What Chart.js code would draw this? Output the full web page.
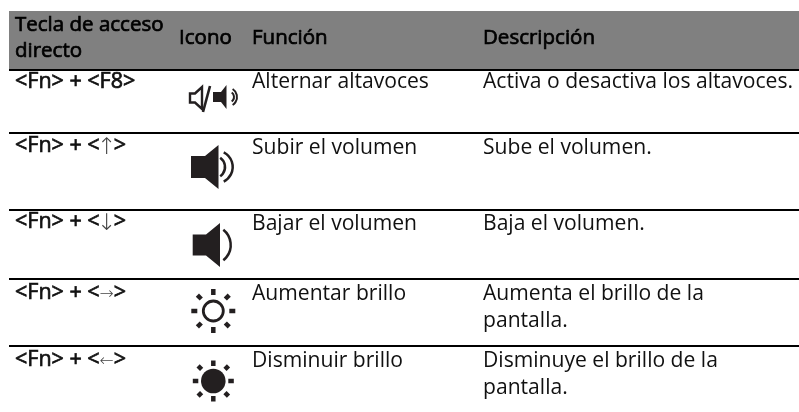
<!DOCTYPE html>
<html lang="es">
<head>
<meta charset="utf-8">
<title>Teclas de acceso directo</title>
<script src="https://cdn.jsdelivr.net/npm/chart.js@4"></script>
<style>
  html, body { margin: 0; padding: 0; background: #fff; overflow: hidden; }
  canvas { display: block; }
</style>
</head>
<body>
<canvas id="table" width="799" height="412"></canvas>
<script>
// table content
const headers = ["Tecla de acceso\ndirecto", "Icono", "Función", "Descripción"];
const hotkeys = ["<Fn> + <F8>", "<Fn> + <↑>", "<Fn> + <↓>", "<Fn> + <→>", "<Fn> + <←>"];
const icons = ["speakerToggle", "speakerLoud", "speakerSoft", "sunOutline", "sunSolid"];
const functions = ["Alternar altavoces", "Subir el volumen", "Bajar el volumen", "Aumentar brillo", "Disminuir brillo"];
const descriptions = [
    "Activa o desactiva los altavoces.",
    "Sube el volumen.",
    "Baja el volumen.",
    "Aumenta el brillo de la\npantalla.",
    "Disminuye el brillo de la\npantalla."
];

// layout, in scale units (the scales run 1:1 with the page)
const columnLeft = [15, 179, 252, 483];
const headerTop = 11;
const headerBottom = 69;
const headerCentre = 44;
const ruleValues = [70, 133, 210, 279, 346];
const hotkeyBaseline = [88, 152, 228, 299, 366];
const rowBaseline = [88, 154, 230, 300, 367];
const lineHeight = 27;
const iconCentre = [98, 167, 245, 311, 381];

const FONT = '"Open Sans", "Noto Sans", sans-serif';
const ARROW_FONT = '"DejaVu Sans"';
const INK = "#111111";
const ICON_INK = "#231f20";

function fauxBold(ctx, text, x, y) {
    ctx.lineWidth = 0.7;
    ctx.strokeStyle = ctx.fillStyle;
    ctx.strokeText(text, x, y);
    ctx.fillText(text, x, y);
}

// arrows come from a thin symbol font, the rest of the key label is heavy
function drawHotkey(ctx, label, x, y) {
    let cursor = x;
    label.split(/([↑↓→←])/).forEach((part) => {
        if (!part) return;
        if (/[↑↓→←]/.test(part)) {
            const upright = /[↑↓]/.test(part);
            ctx.font = "200 17px " + ARROW_FONT;
            const advance = ctx.measureText(part).width;
            ctx.save();
            if (upright) ctx.font = "200 23px " + ARROW_FONT;
            const offset = (advance - ctx.measureText(part).width) / 2;
            ctx.fillStyle = "#444444";
            ctx.fillText(part, cursor + offset, y + (upright ? 1.5 : 0));
            ctx.restore();
            cursor += advance;
        } else {
            ctx.font = "21.5px " + FONT;
            fauxBold(ctx, part, cursor, y);
            cursor += ctx.measureText(part).width;
        }
    });
}

function speaker(ctx, left, neck, right, cy, boxHalf, coneHalf) {
    ctx.beginPath();
    ctx.moveTo(left, cy - boxHalf);
    ctx.lineTo(neck, cy - boxHalf);
    ctx.lineTo(right, cy - coneHalf);
    ctx.lineTo(right, cy + coneHalf);
    ctx.lineTo(neck, cy + boxHalf);
    ctx.lineTo(left, cy + boxHalf);
    ctx.closePath();
}

function wave(ctx, cx, cy, radius, halfAngle, width) {
    ctx.lineWidth = width;
    ctx.beginPath();
    ctx.arc(cx, cy, radius, -halfAngle, halfAngle);
    ctx.stroke();
}

function rays(ctx, cx, cy, inner, outer, diagInner, diagOuter) {
    ctx.lineWidth = 4.5;
    for (let i = 0; i < 8; i++) {
        const angle = i * Math.PI / 4;
        const from = i % 2 ? diagInner : inner;
        const to = i % 2 ? diagOuter : outer;
        ctx.beginPath();
        ctx.moveTo(cx + from * Math.cos(angle), cy + from * Math.sin(angle));
        ctx.lineTo(cx + to * Math.cos(angle), cy + to * Math.sin(angle));
        ctx.stroke();
    }
}

const iconDrawers = {
    speakerToggle(ctx, cy) {
        ctx.lineWidth = 2.4;
        speaker(ctx, 190, 195, 202, cy, 4.5, 11);
        ctx.stroke();
        ctx.lineWidth = 2.6;
        ctx.beginPath();
        ctx.moveTo(210, cy - 12);
        ctx.lineTo(203, cy + 14);
        ctx.stroke();
        speaker(ctx, 213, 221, 226.5, cy - 1, 5, 12);
        ctx.fill();
        wave(ctx, 228.5, cy - 1, 5.5, 0.95, 2);
        wave(ctx, 227.5, cy - 1, 9.5, 1.0, 2);
    },
    speakerLoud(ctx, cy) {
        speaker(ctx, 191, 205, 218.5, cy, 11, 22);
        ctx.fill();
        wave(ctx, 213.5, cy, 11.5, 0.95, 2.5);
        wave(ctx, 216.3, cy, 16.4, 1.1, 2.5);
    },
    speakerSoft(ctx, cy) {
        speaker(ctx, 192.7, 206, 220, cy, 10.5, 22);
        ctx.fill();
        wave(ctx, 211.2, cy, 19.5, 0.9, 2.5);
    },
    sunOutline(ctx, cy) {
        ctx.lineWidth = 2.8;
        ctx.beginPath();
        ctx.arc(213.3, cy, 10, 0, Math.PI * 2);
        ctx.stroke();
        rays(ctx, 213.3, cy, 16, 22, 17, 22.5);
    },
    sunSolid(ctx, cy) {
        ctx.beginPath();
        ctx.arc(213.3, cy, 12.3, 0, Math.PI * 2);
        ctx.fill();
        rays(ctx, 213.3, cy, 15, 20.5, 16.5, 21.5);
    }
};

const tablePlugin = {
    id: "tableText",
    afterDatasetsDraw(chart) {
        const { ctx, scales: { x, y } } = chart;
        ctx.save();
        ctx.textBaseline = "alphabetic";
        ctx.fillStyle = "#000000";

        ctx.font = "20.5px " + FONT;
        headers.forEach((label, col) => {
            const lines = label.split("\n");
            lines.forEach((line, i) => {
                const base = headerCentre + (i - (lines.length - 1) / 2) * 26;
                fauxBold(ctx, line, x.getPixelForValue(columnLeft[col]), y.getPixelForValue(base));
            });
        });

        ctx.fillStyle = INK;
        hotkeys.forEach((label, row) => {
            drawHotkey(ctx, label, x.getPixelForValue(columnLeft[0]), y.getPixelForValue(hotkeyBaseline[row]));
        });

        ctx.font = "21.1px " + FONT;
        functions.forEach((label, row) => {
            ctx.fillText(label, x.getPixelForValue(columnLeft[2]), y.getPixelForValue(rowBaseline[row]));
        });
        descriptions.forEach((label, row) => {
            label.split("\n").forEach((line, i) => {
                ctx.fillText(line, x.getPixelForValue(columnLeft[3]), y.getPixelForValue(rowBaseline[row] + i * lineHeight));
            });
        });

        ctx.fillStyle = ICON_INK;
        ctx.strokeStyle = ICON_INK;
        icons.forEach((name, row) => {
            iconDrawers[name](ctx, y.getPixelForValue(iconCentre[row]));
        });
        ctx.restore();
    }
};

new Chart(document.getElementById("table"), {
    type: "line",
    data: {
        datasets: [{
            label: headers[0],
            data: [{ x: 9, y: headerTop }, { x: 799, y: headerTop }],
            fill: { value: headerBottom },
            backgroundColor: "#808080",
            borderWidth: 0,
            pointRadius: 0
        }]
    },
    plugins: [tablePlugin],
    options: {
        responsive: false,
        animation: false,
        layout: { padding: { left: 9 } },
        plugins: {
            legend: { display: false },
            tooltip: { enabled: false }
        },
        scales: {
            x: { type: "linear", min: 9, max: 799, display: false },
            y: {
                type: "linear",
                min: 0,
                max: 412,
                reverse: true,
                afterBuildTicks(scale) {
                    scale.ticks = ruleValues.map((value) => ({ value }));
                },
                ticks: { display: false },
                border: { display: false },
                grid: { color: "#000000", lineWidth: 2, drawTicks: false }
            }
        }
    }
});
</script>
</body>
</html>
